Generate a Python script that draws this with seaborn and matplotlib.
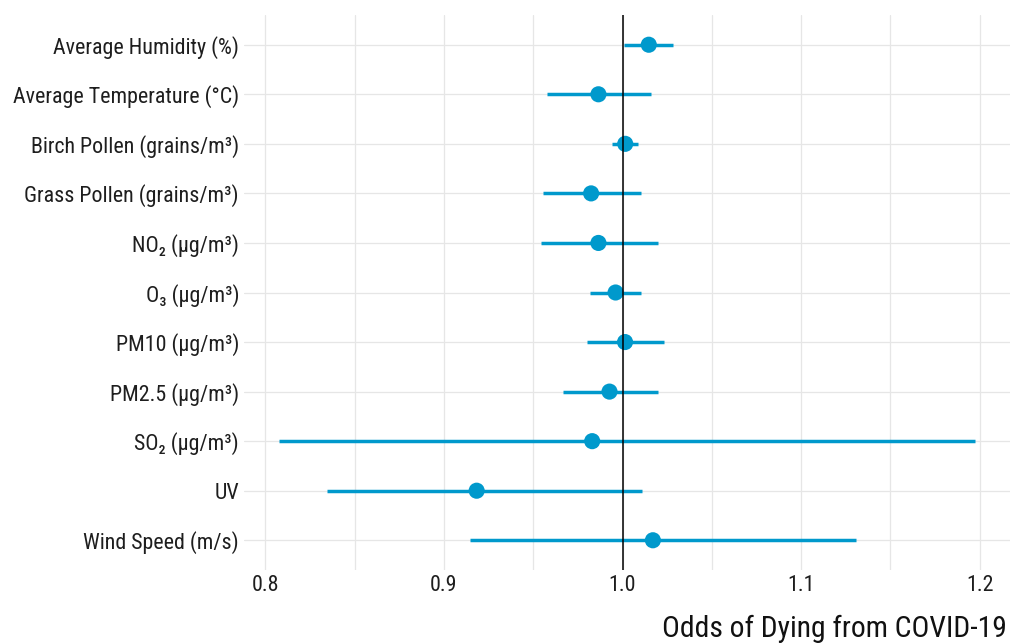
import numpy as np
import pandas as pd
import matplotlib
matplotlib.use("Agg")
import matplotlib.pyplot as plt
import seaborn as sns

variables = [
    "Average Humidity (%)",
    "Average Temperature (°C)",
    "Birch Pollen (grains/m³)",
    "Grass Pollen (grains/m³)",
    "NO₂ (µg/m³)",
    "O₃ (µg/m³)",
    "PM10 (µg/m³)",
    "PM2.5 (µg/m³)",
    "SO₂ (µg/m³)",
    "UV",
    "Wind Speed (m/s)",
]
odds = [1.0147, 0.9865, 1.0015, 0.9824, 0.9865, 0.9961, 1.0014, 0.9927, 0.9830, 0.9183, 1.0170]
lower = [1.0008, 0.9579, 0.9940, 0.9553, 0.9542, 0.9819, 0.9802, 0.9665, 0.8076, 0.8346, 0.9143]
upper = [1.0285, 1.0162, 1.0088, 1.0105, 1.0201, 1.0101, 1.0230, 1.0201, 1.1973, 1.0108, 1.1306]
x_ticks = [0.8, 0.9, 1.0, 1.1, 1.2]

df = pd.DataFrame({"variable": variables, "odds": odds, "lower": lower, "upper": upper})

sns.set_style("white")
plt.rcParams["font.family"] = ["Roboto Condensed", "Roboto", "DejaVu Sans"]

color = "#0099cc"
fig = plt.figure(figsize=(10.1, 6.44), dpi=100)
# panel spans x 244..1010, y 15..570 px
ax = fig.add_axes([244 / 1010, 74 / 644, 766 / 1010, 555 / 644])

# confidence intervals, then point estimates
ax.hlines(df["variable"], df["lower"], df["upper"], color=color, lw=2.5, zorder=3)
sns.scatterplot(data=df, x="odds", y="variable", ax=ax, color=color, s=135,
                edgecolor="none", zorder=4)
ax.axvline(1.0, color="black", lw=1.1, zorder=5)

n = len(variables)
ax.set_ylim(n - 1 + 0.6, -0.6)
ax.set_xlim(0.788, 1.217)
ax.set_xticks(x_ticks)
ax.set_xticks([0.85, 0.95, 1.05, 1.15], minor=True)
ax.xaxis.set_major_formatter(matplotlib.ticker.FormatStrFormatter("%.1f"))
ax.grid(True, which="both", axis="x", color="#e6e6e6", lw=0.9)
ax.grid(True, which="major", axis="y", color="#e6e6e6", lw=0.9)
ax.set_axisbelow(True)
for s in ax.spines.values():
    s.set_visible(False)
ax.tick_params(axis="both", which="both", length=0, labelsize=15.8, colors="#1e1e1e")
ax.tick_params(axis="y", pad=3.6)
ax.tick_params(axis="x", pad=3.5)
ax.set_ylabel("")
ax.set_xlabel("Odds of Dying from COVID-19", loc="right", fontsize=21.3,
              labelpad=14, color="#111111")
ax.xaxis.label.set_x(1 - 3 / 766)

fig.savefig("out.png", dpi=100)
